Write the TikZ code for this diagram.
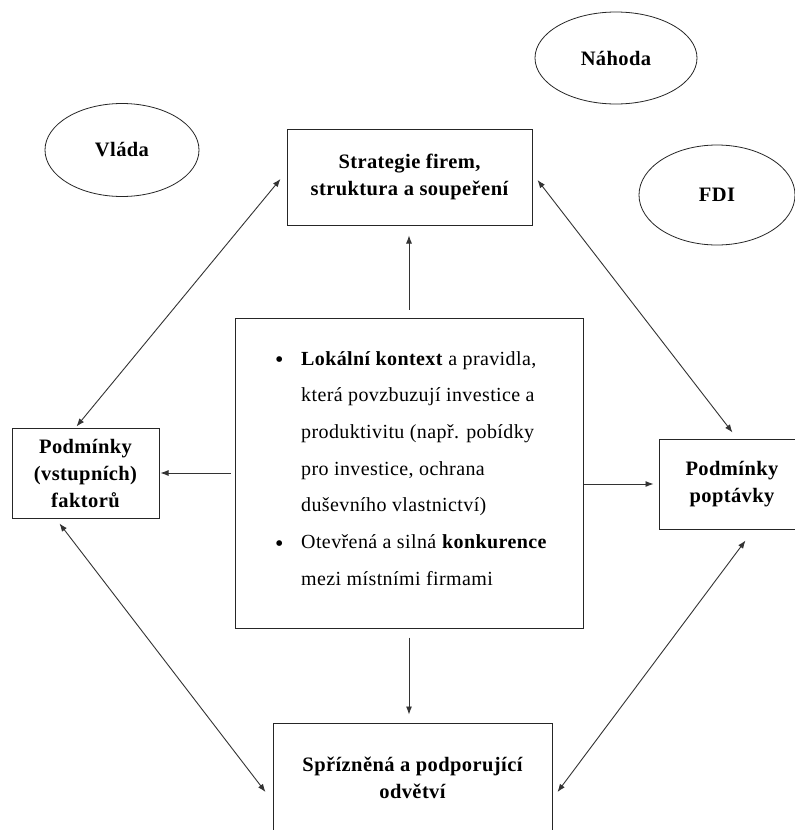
\documentclass[tikz,border=0pt]{standalone}
\usepackage{fontspec}
\setmainfont{Liberation Serif}[LetterSpace=2]
\newfontfamily\headfont{Liberation Serif}[LetterSpace=2]
\usetikzlibrary{arrows.meta,shapes.geometric}

\newcommand{\bigdot}{\makebox[26pt][l]{\raisebox{-2.5pt}{\fontsize{24}{24}\selectfont •}}}

\tikzset{
  headtext/.style={font=\headfont\bfseries\fontsize{20.5}{27}\selectfont},
  box/.style={draw=black!85, line width=1pt, inner sep=0pt, align=center, headtext},
  oval/.style={ellipse, draw=black!85, line width=0.8pt, inner sep=0pt, headtext},
  arr/.style={draw=black!80, line width=0.9pt, -{Latex[length=8pt,width=6pt]}},
  darr/.style={draw=black!80, line width=0.9pt, {Latex[length=8pt,width=6pt]}-{Latex[length=8pt,width=6pt]}},
}

\begin{document}
\begin{tikzpicture}[x=1pt,y=1pt]
  \useasboundingbox (0,0) rectangle (795,-830);
  \fill[white] (0,0) rectangle (795,-830);
  \clip (0,0) rectangle (795,-830);

  % outside influences
  \node[oval, minimum width=162, minimum height=92] (nahoda) at (616,-58) {Náhoda};
  \node[oval, minimum width=156, minimum height=100] (fdi) at (717,-195) {FDI};
  \node[oval, minimum width=154, minimum height=93] (vlada) at (122,-150) {Vláda};

  % the four corners of the diamond
  \node[box, minimum width=245, minimum height=96] (strat) at (409.5,-177)
    {Strategie firem,\\ struktura a soupeření};
  \node[box, minimum width=147, minimum height=90] (fac) at (85.5,-473)
    {Podmínky\\ (vstupních)\\ faktorů};
  \node[box, minimum width=146, minimum height=90] (dem) at (732,-484)
    {Podmínky\\ poptávky};
  \node[box, minimum width=279, minimum height=110] (rel) at (412.5,-778)
    {Spřízněná a podporující\\ odvětví};

  % central box with the local context
  \node[box, minimum width=348, minimum height=310] (ctx) at (409,-473) {};
  \node[anchor=base west, inner sep=0pt] (ctxtext) at (275,-365)
    {\parbox[t]{310pt}{\raggedright\fontsize{20}{36.7}\selectfont
      \bigdot\textbf{Lokální kontext} a pravidla,\\
      \hspace*{26pt}která povzbuzují investice a\\
      \hspace*{26pt}produktivitu (např. pobídky\\
      \hspace*{26pt}pro investice, ochrana\\
      \hspace*{26pt}duševního vlastnictví)\\
      \bigdot Otevřená a silná \textbf{konkurence}\\
      \hspace*{26pt}mezi místními firmami}};

  % arrows from the centre outwards
  \draw[arr, shorten <=8pt, shorten >=10pt] (ctx.north) -- (ctx.north |- strat.south);
  \draw[arr, shorten <=9pt, shorten >=8pt] (ctx.south) -- (ctx.south |- rel.north);
  \draw[arr, shorten <=4pt, shorten >=1pt] (ctx.west) -- (fac.east);
  \draw[arr, shorten >=5pt] (ctx.east |- dem.west) -- (dem.west);

  % two-way links around the diamond
  \draw[darr] ([xshift=65pt,yshift=1pt]fac.north west) -- ([xshift=-6pt,yshift=-2pt]strat.west);
  \draw[darr] ([xshift=5pt,yshift=-3pt]strat.east) -- ([xshift=74pt,yshift=6pt]dem.north west);
  \draw[darr] ([xshift=48pt,yshift=-5pt]fac.south west) -- ([xshift=-7pt,yshift=-14pt]rel.west);
  \draw[darr] ([xshift=87pt,yshift=-11pt]dem.south west) -- ([xshift=5pt,yshift=-14pt]rel.east);
\end{tikzpicture}
\end{document}
